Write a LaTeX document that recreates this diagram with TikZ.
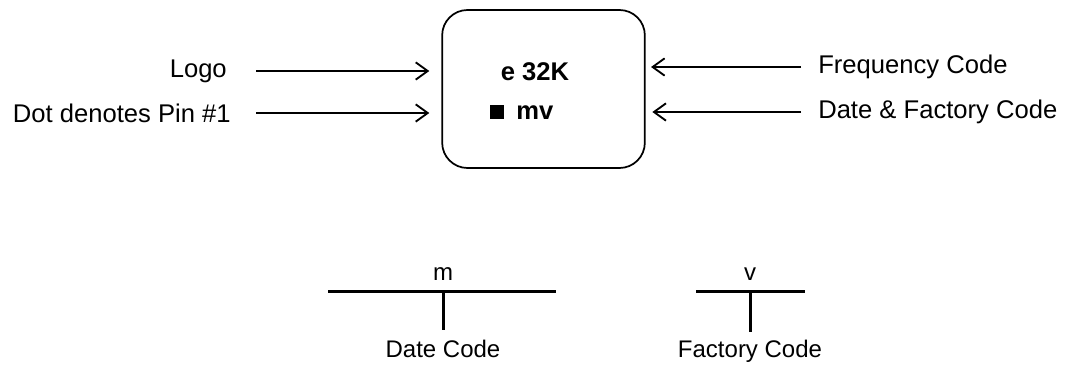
\documentclass[tikz,border=0pt]{standalone}
\usepackage{fontspec}
\setmainfont{Liberation Sans}
\usetikzlibrary{arrows.meta}
\begin{document}
\begin{tikzpicture}[x=0.75pt,y=-0.75pt,
  lbl/.style={inner sep=0pt,font=\fontsize{19.2}{22}\selectfont},
  smalllbl/.style={inner sep=0pt,anchor=base,font=\fontsize{18}{21}\selectfont},
  inarrow/.style={line width=1.4pt,-{Straight Barb[length=9pt,width=13pt,line width=1.4pt]}},
  tbar/.style={line width=2.25pt},
  chip/.style={draw,line width=1.3pt,rounded corners=19pt,minimum width=152pt,minimum height=118.5pt,inner sep=0pt}]
\useasboundingbox (0,0) rectangle (1067,364);
% chip
\node[chip] (box) at (543.5,89) {};
\node[lbl,anchor=base,font=\fontsize{19.2}{22}\selectfont\bfseries] (top) at (535,80) {e 32K};
\node[inner sep=0pt,fill=black,minimum size=10.5pt] (dot) at (497,112) {};
\node[lbl,anchor=base west,font=\fontsize{19.2}{22}\selectfont\bfseries] (mv) at (516,119) {mv};
% left labels
\node[lbl,anchor=east] (logo) at (227,71) {Logo};
\node[lbl,anchor=east] (pin) at (231,113) {Dot denotes Pin \#1};
\coordinate (logoS) at (256,71);
\coordinate (pinS) at (256,113);
\draw[inarrow,shorten >=9pt] (logoS) -- (logoS -| box.west);
\draw[inarrow,shorten >=9pt] (pinS) -- (pinS -| box.west);
% right labels
\node[lbl,anchor=west] (freq) at (818,67) {Frequency Code};
\node[lbl,anchor=west] (date) at (818,112) {Date \& Factory Code};
\coordinate (freqS) at (801,67);
\coordinate (dateS) at (801,112);
\draw[inarrow,shorten >=4pt] (freqS) -- (freqS -| box.east);
\draw[inarrow,shorten >=5pt] (dateS) -- (dateS -| box.east);
% bottom decoders
\node[smalllbl] (m) at (443,280) {m};
\coordinate (mL) at (328,291);
\coordinate (mR) at (556,291);
\coordinate (mT) at (443,291);
\coordinate (mB) at (443,330);
\draw[tbar] (mL) -- (mR);
\draw[tbar] (mT) -- (mB);
\node[smalllbl] (datecode) at (443,357) {Date Code};
\node[smalllbl] (v) at (750,280) {v};
\coordinate (vL) at (696,291);
\coordinate (vR) at (805,291);
\coordinate (vT) at (750,291);
\coordinate (vB) at (750,332);
\draw[tbar] (vL) -- (vR);
\draw[tbar] (vT) -- (vB);
\node[smalllbl] (factcode) at (750,357) {Factory Code};
\end{tikzpicture}
\end{document}
